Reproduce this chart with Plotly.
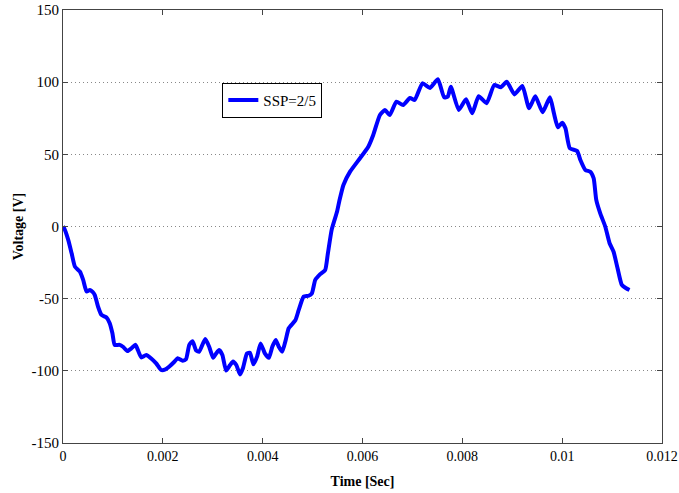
import plotly.graph_objects as go

time_s = [0, 0.00002, 0.000106, 0.000173, 0.000239, 0.000339, 0.000404, 0.000472, 0.000538, 0.000598,
          0.000637, 0.000703, 0.000771, 0.000871, 0.000936, 0.000990, 0.001036, 0.001135, 0.001201, 0.001289,
          0.001369, 0.001454, 0.001500, 0.001568, 0.001667, 0.001767, 0.001867, 0.001966, 0.002052, 0.002131,
          0.002231, 0.002297, 0.002396, 0.002464, 0.002530, 0.002596, 0.002669, 0.002729, 0.002849, 0.002928,
          0.003008, 0.003068, 0.003127, 0.003193, 0.003267, 0.003347, 0.003406, 0.003472, 0.003546, 0.003606,
          0.003685, 0.003745, 0.003815, 0.003890, 0.003958, 0.004044, 0.004124, 0.004193, 0.004263, 0.004323,
          0.004392, 0.004462, 0.004522, 0.004655, 0.004721, 0.004821, 0.004920, 0.004986, 0.005054, 0.005153,
          0.005253, 0.005305, 0.005384, 0.005488, 0.005538, 0.005618, 0.005751, 0.005950, 0.006116, 0.006215,
          0.006349, 0.006448, 0.006548, 0.006679, 0.006813, 0.006952, 0.007046, 0.007201, 0.007351, 0.007510,
          0.007635, 0.007709, 0.007769, 0.007928, 0.008074, 0.008197, 0.008327, 0.008486, 0.008639, 0.008771,
          0.008890, 0.009044, 0.009203, 0.009337, 0.009462, 0.009608, 0.009755, 0.009835, 0.009914, 0.010000,
          0.010066, 0.010153, 0.010299, 0.010365, 0.010464, 0.010564, 0.010631, 0.010683, 0.010763, 0.010863,
          0.010950, 0.011030, 0.011110, 0.011195, 0.011281, 0.011349]

voltage_v = [0, -1, -9.4, -18.6, -27.8, -31.3, -37, -45, -44, -45.5,
             -47.5, -55.6, -61.3, -63, -67, -74, -82, -82, -83.3, -86.3,
             -84.4, -82, -85.6, -90.7, -89, -91.4, -94.8, -99.4, -99, -97,
             -93.7, -91.3, -93, -92, -82, -79.5, -86, -86.7, -78, -83.3,
             -91, -88, -85.6, -89, -99.8, -96, -93.5, -96, -102.5, -98,
             -88, -87.5, -95.5, -90, -81, -87.9, -91, -83.3, -78.6, -83.3,
             -86.7, -78.6, -70.5, -65, -58, -48.6, -48, -46.3, -37, -33,
             -30.1, -19, -2, 10, 18, 28.8, 38, 47.3, 55.3, 63.4,
             77.3, 80.7, 77.3, 86.5, 84.2, 89, 87.7, 99.2, 96, 102,
             89.5, 90, 96.9, 80.7, 88.1, 78.4, 90.2, 85.4, 98, 96.5,
             100.3, 91.5, 97.4, 81.9, 90.2, 79.2, 89.5, 78.4, 68.7, 71.9,
             68, 54.2, 52.3, 46.1, 39.2, 38, 33.4, 18.4, 9.1, 0,
             -11.6, -17.5, -29, -40.5, -42.8, -44]

series_name = "SSP=2/5"
x_ticks = [0, 0.002, 0.004, 0.006, 0.008, 0.01, 0.012]
x_ticklabels = ["0", "0.002", "0.004", "0.006", "0.008", "0.01", "0.012"]
y_ticks = [-150, -100, -50, 0, 50, 100, 150]
y_ticklabels = ["-150", "-100", "-50", "0", "50", "100", "150"]

font_family = "Liberation Serif"

fig = go.Figure()
fig.add_trace(go.Scatter(
    x=time_s, y=voltage_v, mode="lines", name=series_name,
    line=dict(color="#0000FF", width=4, shape="spline", smoothing=0.5),
))

axis_common = dict(
    showline=True, linecolor="#444444", linewidth=1, mirror="ticks",
    ticks="inside", ticklen=5, tickcolor="#444444",
    zeroline=False, automargin=False, ticklabeloverflow="allow",
)

fig.update_layout(
    width=679, height=493,
    margin=dict(l=63, r=17, t=10, b=50),
    paper_bgcolor="white", plot_bgcolor="white",
    font=dict(family=font_family, size=14, color="black"),
    showlegend=True,
    legend=dict(
        x=0.266, y=0.832, xanchor="left", yanchor="top",
        bgcolor="white", bordercolor="black", borderwidth=1,
        font=dict(family=font_family, size=15, color="black"),
        itemwidth=30, tracegroupgap=0,
    ),
    xaxis=dict(
        range=[0, 0.012], tickvals=x_ticks, ticktext=x_ticklabels,
        showgrid=False, ticklabelstandoff=0,
        tickfont=dict(family=font_family, size=14, color="black"),
        title=dict(text="<b>Time [Sec]</b>", font=dict(family=font_family, size=14), standoff=13),
        **axis_common,
    ),
    yaxis=dict(
        range=[-150, 150], tickvals=y_ticks, ticktext=y_ticklabels,
        showgrid=True, gridcolor="#888888", griddash="1px,3px", gridwidth=1,
        tickfont=dict(family=font_family, size=15, color="black"),
        title=dict(text="<b>Voltage [V]</b>", font=dict(family=font_family, size=14), standoff=4),
        **axis_common,
    ),
)

fig.write_html("out.html")
